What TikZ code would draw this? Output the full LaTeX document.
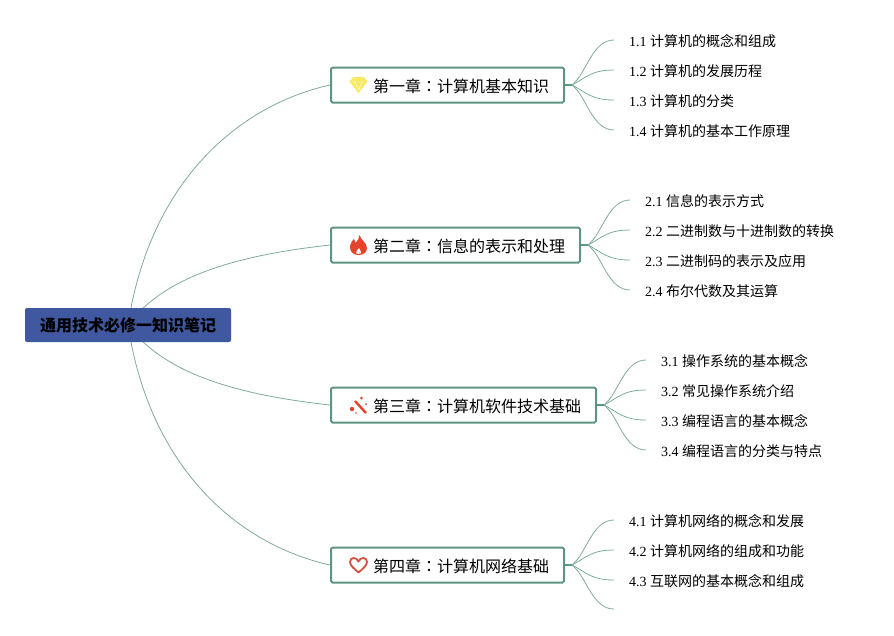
\documentclass[tikz,border=0pt]{standalone}
\usepackage{fontspec}
\usepackage{xcolor}
\setmainfont{Liberation Serif}
\newfontfamily\cjk{Noto Sans CJK SC}
\newfontfamily\cjkcolon{Noto Sans CJK TC}
\usetikzlibrary{arrows.meta,positioning,backgrounds}
\definecolor{MBlue}{HTML}{3F58A0}
\definecolor{MGreen}{HTML}{5E9484}
\definecolor{MTwig}{HTML}{7FAA9D}
\definecolor{MRed}{HTML}{E5432B}
\definecolor{MHeart}{HTML}{D4503F}
\definecolor{MGem}{HTML}{F6E95C}

\begin{document}
\begin{tikzpicture}[
  x=1pt,y=-1pt,
  node distance=14pt,
  root/.style={fill=MBlue,rounded corners=2pt,minimum width=206pt,minimum height=34pt,
    inner sep=0pt,text height=14pt,text depth=1pt,font=\cjk\bfseries\fontsize{16}{16}\selectfont},
  chap/.style={draw=MGreen,line width=2pt,fill=white,rounded corners=1.5pt,anchor=west,
    minimum height=35pt,inner ysep=0pt,inner xsep=15pt,text height=14pt,text depth=0pt,
    font=\cjk\fontsize{16}{16}\selectfont},
  leaf/.style={anchor=west,inner xsep=15pt,inner ysep=0pt,minimum height=18pt,
    font=\fontsize{14}{14}\selectfont},
  stub/.style={MGreen,line width=2.4pt},
  twig/.style={MTwig,line width=0.8pt},
  trunk/.style={MTwig,line width=0.8pt},
  gem/.pic={
    \fill[MGem] (-9,-3.5) -- (-5,-8) -- (5,-8) -- (9,-3.5) -- (0,8) -- cycle;
    \draw[white,line width=0.4pt] (-7,-3) -- (7,-3) (-3.5,-7) -- (-3.5,-3) -- (0,5) -- (3.5,-3) -- (3.5,-7);
  },
  flame/.pic={
    \fill[MRed] (1,-10) .. controls (2,-5) and (8,-3) .. (8.5,3)
      .. controls (8.5,8) and (4,10) .. (0,10)
      .. controls (-5,10) and (-8.5,7) .. (-8.5,2)
      .. controls (-8.5,-2) and (-5.5,-4) .. (-5,-6)
      .. controls (-3.5,-5) and (-3,-3) .. (-3,-2)
      .. controls (-1,-4) and (1,-7) .. (1,-10) -- cycle;
    \fill[white] (0.5,3) .. controls (1,5) and (3,6) .. (2.5,8)
      .. controls (2,9) and (-2,9) .. (-2.5,8)
      .. controls (-3,6.5) and (-0.5,5) .. (0.5,3) -- cycle;
  },
  wand/.pic={
    \draw[MRed,line width=2.4pt] (-3,-4) -- (8,8);
    \fill[MRed] (-6,4) circle (2.2pt) (3.5,-7) circle (1.5pt) (8,-1) circle (1pt) (-2,8) circle (0.8pt);
  },
  heart/.pic={
    \draw[MHeart,line width=1.8pt,line join=round] (0,7.5) .. controls (-4,4) and (-8.5,0.5) .. (-8.5,-3)
      .. controls (-8.5,-8) and (-2,-8.5) .. (0,-3.5)
      .. controls (2,-8.5) and (8.5,-8) .. (8.5,-3)
      .. controls (8.5,0.5) and (4,4) .. (0,7.5) -- cycle;
  }
]
  \useasboundingbox (0,0) rectangle (894,635);
  \node[root] (main) at (128,325) {通用技术必修一知识笔记};

  \node[chap] (ch1) at (330,85) {\hspace*{27pt}第一章{\cjkcolon ：}计算机基本知识};
  \node[chap] (ch2) at (330,245) {\hspace*{27pt}第二章{\cjkcolon ：}信息的表示和处理};
  \node[chap] (ch3) at (330,405) {\hspace*{27pt}第三章{\cjkcolon ：}计算机软件技术基础};
  \node[chap] (ch4) at (330,565) {\hspace*{27pt}第四章{\cjkcolon ：}计算机网络基础};

  \path (ch1.west) ++(28.5,0) pic {gem};
  \path (ch2.west) ++(28.5,0) pic {flame};
  \path (ch3.west) ++(28,0) pic {wand};
  \path (ch4.west) ++(28.5,0) pic {heart};

  \node[leaf] (l1a) at (614,41) {1.1 {\cjk 计算机的概念和组成}};
  \node[leaf] (l1b) at (614,71) {1.2 {\cjk 计算机的发展历程}};
  \node[leaf] (l1c) at (614,101) {1.3 {\cjk 计算机的分类}};
  \node[leaf] (l1d) at (614,131) {1.4 {\cjk 计算机的基本工作原理}};

  \node[leaf] (l2a) at (630,201) {2.1 {\cjk 信息的表示方式}};
  \node[leaf] (l2b) at (630,231) {2.2 {\cjk 二进制数与十进制数的转换}};
  \node[leaf] (l2c) at (630,261) {2.3 {\cjk 二进制码的表示及应用}};
  \node[leaf] (l2d) at (630,291) {2.4 {\cjk 布尔代数及其运算}};

  \node[leaf] (l3a) at (646,361) {3.1 {\cjk 操作系统的基本概念}};
  \node[leaf] (l3b) at (646,391) {3.2 {\cjk 常见操作系统介绍}};
  \node[leaf] (l3c) at (646,421) {3.3 {\cjk 编程语言的基本概念}};
  \node[leaf] (l3d) at (646,451) {3.4 {\cjk 编程语言的分类与特点}};

  \node[leaf] (l4a) at (614,521) {4.1 {\cjk 计算机网络的概念和发展}};
  \node[leaf] (l4b) at (614,551) {4.2 {\cjk 计算机网络的组成和功能}};
  \node[leaf] (l4c) at (614,581) {4.3 {\cjk 互联网的基本概念和组成}};
  \node[leaf] (l4d) at (614,610) {};

  \begin{scope}[on background layer]
    \draw[trunk] (main.center) .. controls (150,180) and (240,105) .. (ch1.west);
    \draw[trunk] (main.center) .. controls (165,275) and (240,255) .. (ch2.west);
    \draw[trunk] (main.center) .. controls (165,375) and (240,395) .. (ch3.west);
    \draw[trunk] (main.center) .. controls (150,470) and (240,545) .. (ch4.west);
  \end{scope}

  \foreach \n in {1,2,3,4} {
    \coordinate (hub\n) at ([xshift=7pt]ch\n.east);
    \draw[stub] (ch\n.east) -- (hub\n);
    \foreach \m/\b in {a/-12,b/-8,c/8,d/12}
      {\draw[twig] (hub\n) .. controls +(15,\b) and +(-22,0) .. ([yshift=1pt]l\n\m.west);}
  }
\end{tikzpicture}
\end{document}
